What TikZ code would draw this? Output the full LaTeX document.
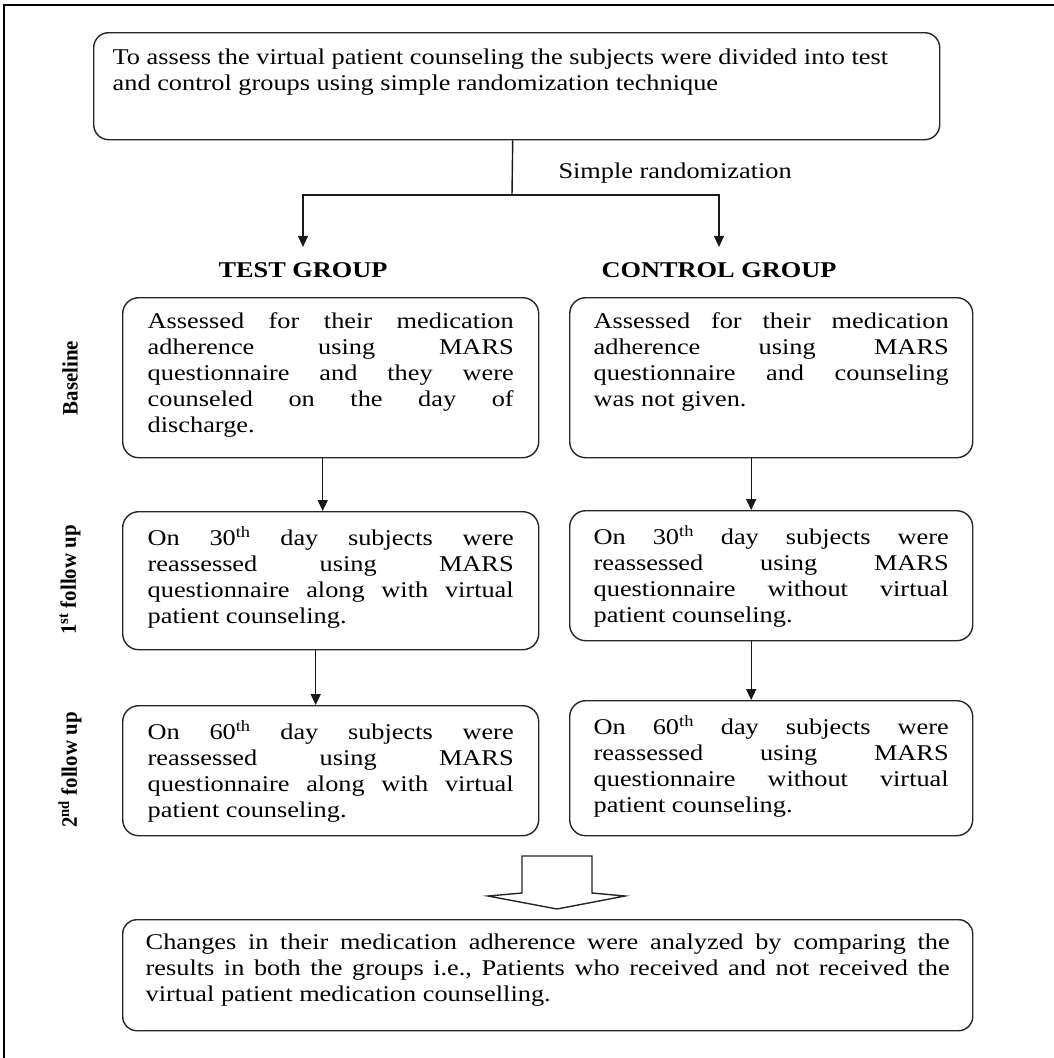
\documentclass[tikz,border=0pt]{standalone}
\usepackage{fontspec}
\setmainfont{Liberation Serif}[FakeStretch=1.17]
\newfontfamily\sidefont{Liberation Serif}[FakeStretch=0.95]
\usetikzlibrary{arrows.meta,calc}
\newcommand{\bxt}[3]{\parbox[c][#2][t]{#1}{\frenchspacing #3}}
\begin{document}
\begin{tikzpicture}[x=1pt,y=-1pt,
  every node/.style={font=\fontsize{22.5}{26}\selectfont, text=black},
  box/.style={draw=black!85, line width=1.4pt, rounded corners=16pt, anchor=north west, inner xsep=25pt, inner ysep=15pt},
  rbox/.style={box, inner xsep=24pt},
  arr/.style={draw=black!90, line width=1.4pt, -{Triangle[length=11pt,width=10pt]}},
  plain/.style={draw=black!90, line width=1.4pt},
  lbl/.style={font=\fontsize{22.5}{26}\selectfont\bfseries},
  side/.style={rotate=90, font=\sidefont\fontsize{22}{26}\selectfont\bfseries}
]
\useasboundingbox (0,0) rectangle (1054,1058);
\fill[white] (0,0) rectangle (1054,1058);
% frame
\draw[line width=2.5pt] (4,1058) -- (4,5) -- (1054,5);

% top box
\node[box, inner xsep=19pt, inner ysep=16pt, rounded corners=15pt] (top) at (93,32)
  {\parbox[c][75pt][t]{808pt}{\raggedright To assess the virtual patient counseling the subjects were divided into test\\
  and control groups using simple randomization technique}};

\coordinate (split) at (512,195);
\node[anchor=base west] (sr) at (555,178) {Simple randomization};

\node[lbl, anchor=base, inner ysep=15pt] (test) at (303,277) {TEST GROUP};
\node[lbl, anchor=base, inner ysep=15pt] (ctrl) at (719,277) {CONTROL GROUP};

\draw[plain] ([xshift=-4pt]top.south) -- (split);
\draw[arr] (split) -| (test.north);
\draw[arr] (split) -| (ctrl.north);

% side labels
\node[side] (sl1) at (70,378) {Baseline};
\node[side] (sl2) at (70,580) {1\textsuperscript{st} follow up};
\node[side] (sl3) at (70,770) {2\textsuperscript{nd} follow up};

% row 1
\node[box] (b1L) at (122,297) {\bxt{366pt}{130pt}{Assessed for their medication\linebreak
adherence using MARS\linebreak questionnaire and they were\linebreak counseled on the day of\linebreak discharge.}};
\node[rbox] (b1R) at (569,297) {\bxt{355pt}{130pt}{Assessed for their medication\linebreak
adherence using MARS\linebreak questionnaire and counseling\linebreak was not given.}};

% row 2
\node[box] (b2L) at (122,511) {\bxt{366pt}{108pt}{On 30\textsuperscript{th} day subjects were\linebreak
reassessed using MARS\linebreak questionnaire along with virtual\linebreak patient counseling.}};
\node[rbox] (b2R) at (569,510) {\bxt{355pt}{100pt}{On 30\textsuperscript{th} day subjects were\linebreak
reassessed using MARS\linebreak questionnaire without virtual\linebreak patient counseling.}};

% row 3
\node[box] (b3L) at (122,705) {\bxt{366pt}{100pt}{On 60\textsuperscript{th} day subjects were\linebreak
reassessed using MARS\linebreak questionnaire along with virtual\linebreak patient counseling.}};
\node[rbox] (b3R) at (569,700) {\bxt{355pt}{105pt}{On 60\textsuperscript{th} day subjects were\linebreak
reassessed using MARS\linebreak questionnaire without virtual\linebreak patient counseling.}};

% vertical arrows
\draw[arr] ([xshift=-8pt]b1L.south) -- ([xshift=-8pt]b1L.south |- b2L.north);
\draw[arr] ([xshift=-20pt]b1R.south) -- ([xshift=-20pt]b1R.south |- b2R.north);
\draw[arr] ([xshift=-15pt]b2L.south) -- ([xshift=-15pt]b2L.south |- b3L.north);
\draw[arr] ([xshift=-20pt]b2R.south) -- ([xshift=-20pt]b2R.south |- b3R.north);

% block arrow
\draw[draw=black!85, line width=1.4pt, line join=miter]
  (522,856) -- (592,856) -- (592,893) -- (625,896) -- (557,909) -- (488,896) -- (522,893) -- cycle;

% bottom box
\node[box, inner xsep=23pt, inner ysep=14pt, rounded corners=14pt] (bot) at (122,919)
  {\bxt{804pt}{83pt}{Changes in their medication adherence were analyzed by comparing the\linebreak
  results in both the groups i.e., Patients who received and not received the\linebreak
  virtual patient medication counselling.}};
\end{tikzpicture}
\end{document}
